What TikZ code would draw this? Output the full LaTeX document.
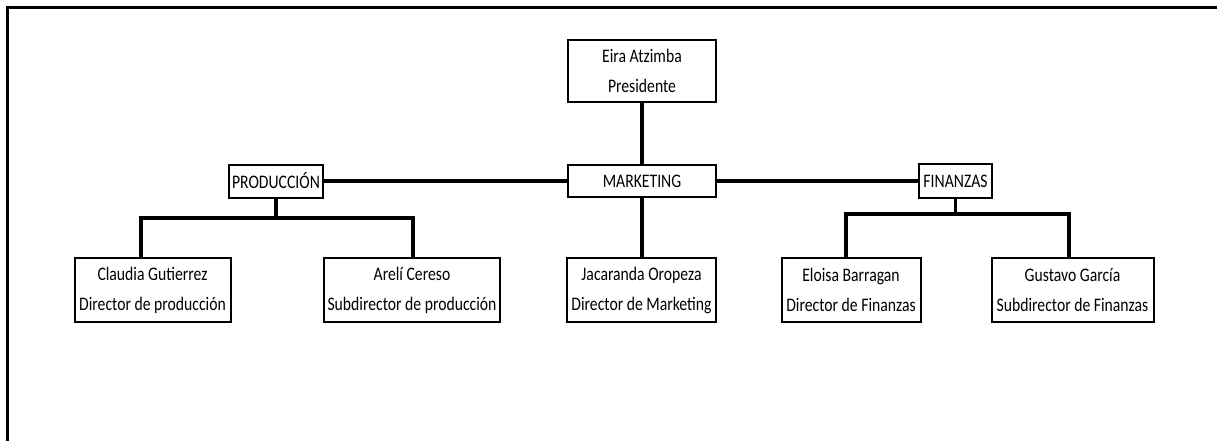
\documentclass[tikz,border=0pt]{standalone}
\usepackage{fontspec}
\usepackage{graphicx}
\setmainfont{Carlito}
\newcommand{\tl}[1]{\scalebox{1}[1.22]{#1}}
\begin{document}
\begin{tikzpicture}[x=1pt,y=1pt,
  box/.style={draw=black,line width=2pt,fill=white,inner sep=0pt,align=center,
    font=\fontsize{15.7}{30}\selectfont},
  conn/.style={line width=3.5pt,line cap=rect}]
\useasboundingbox (0,0) rectangle (1217,-441);
\fill[white] (0,0) rectangle (1217,-441);
% frame
\draw[line width=3pt] (7,-441) -- (7,-8) -- (1217,-8);
% nodes
\node[box,minimum width=148pt,minimum height=62pt] (pres) at (642,-71) {\tl{Eira Atzimba}\\\tl{Presidente}};
\node[box,minimum width=148pt,minimum height=32pt] (mkt) at (642,-181) {\tl{MARKETING}};
\node[box,minimum width=94pt,minimum height=33pt] (prod) at (276,-181) {\tl{PRODUCCIÓN}};
\node[box,minimum width=73pt,minimum height=34pt] (fin) at (955.5,-181) {\tl{FINANZAS}};
\node[box,minimum width=156pt,minimum height=64pt] (cla) at (152.5,-290) {\tl{Claudia Gutierrez}\\\tl{Director de producción}};
\node[box,minimum width=176pt,minimum height=64pt] (are) at (412,-290) {\tl{Arelí Cereso}\\\tl{Subdirector de producción}};
\node[box,minimum width=149pt,minimum height=64pt] (jac) at (641.5,-290) {\tl{Jacaranda Oropeza}\\\tl{Director de Marketing}};
\node[box,minimum width=139pt,minimum height=64pt] (elo) at (851,-290) {\tl{Eloisa Barragan}\\\tl{Director de Finanzas}};
\node[box,minimum width=162pt,minimum height=64pt] (gus) at (1072.5,-290) {\tl{Gustavo García}\\\tl{Subdirector de Finanzas}};
% bar coordinates
\coordinate (pl) at (141,-218);
\coordinate (pr) at (413,-218);
\coordinate (fl) at (846,-214);
\coordinate (fr) at (1069,-214);
% connectors
\draw[conn] (pres.south) -- (mkt.north);
\draw[conn] (prod.east) -- (mkt.west);
\draw[conn] (mkt.east) -- (fin.west);
\draw[conn] (mkt.south) -- (jac.north -| mkt.south);
\draw[conn] (prod.south) -- (prod.south |- pl);
\draw[conn] (pl) -- (pr);
\draw[conn] (pl) -- (pl |- cla.north);
\draw[conn] (pr) -- (pr |- are.north);
\draw[conn] (fin.south) -- (fin.south |- fl);
\draw[conn] (fl) -- (fr);
\draw[conn] (fl) -- (fl |- elo.north);
\draw[conn] (fr) -- (fr |- gus.north);
\end{tikzpicture}
\end{document}
